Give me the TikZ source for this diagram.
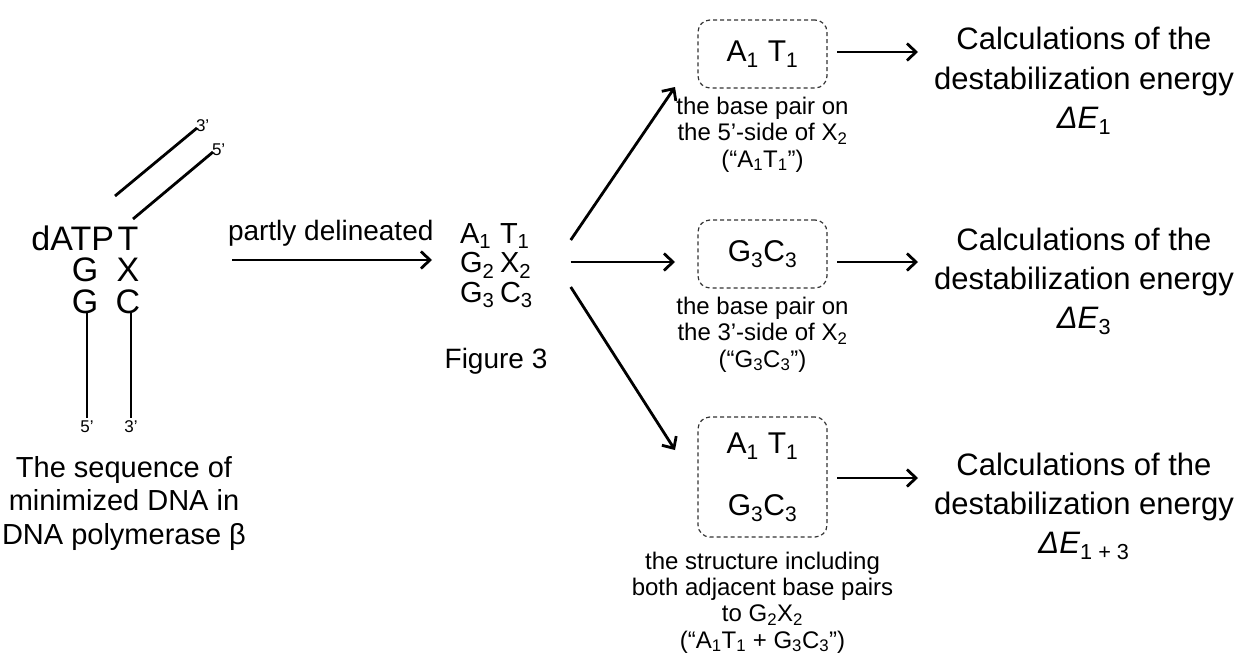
\documentclass[tikz,border=0pt]{standalone}
\usepackage{fontspec}
\setmainfont{Liberation Sans}
\usetikzlibrary{arrows.meta,calc}
\newcommand\sub[1]{\textsubscript{#1}}
\newcommand\bp[4]{\makebox[40pt][l]{#1\sub{#2}}#3\sub{#4}}
\begin{document}
\begin{tikzpicture}[x=1pt,y=-1pt,
  every node/.style={inner sep=0pt,outer sep=0pt},
  strand/.style={line width=2.8pt},
  flow/.style={line width=2.8pt,-{Straight Barb[length=9pt,width=17pt]}},
  base/.style={font=\fontsize{34}{34}\selectfont},
  endlabel/.style={font=\fontsize{17}{17}\selectfont},
  caption/.style={align=center,font=\fontsize{29}{33.5}\selectfont},
  result/.style={align=center,font=\fontsize{31}{39}\selectfont},
  note/.style={align=center,font=\fontsize{24}{26.3}\selectfont},
  pairbox/.style={draw=black!80,dashed,dash pattern=on 4pt off 3pt,line width=1.2pt,
    rounded corners=12pt,minimum width=129pt,font=\fontsize{30}{30}\selectfont}]
\useasboundingbox (0,0) rectangle (1244,661);

% minimized DNA: template and primer strands
\node[base,anchor=base east] (datp) at (114,250) {dATP};
\node[base,anchor=base] (t0) at (128,250) {T};
\node[base,anchor=base] (g2) at (85,281) {G};
\node[base,anchor=base] (x2) at (128,281) {X};
\node[base,anchor=base] (g3) at (85,313) {G};
\node[base,anchor=base] (c3) at (128,313) {C};
\coordinate (up3) at (197,128);
\coordinate (up5) at (213,152);
\coordinate (dn5) at (87,418);
\coordinate (dn3) at (131,418);
\draw[strand] (115,196) -- (up3);
\draw[strand] (133,219) -- (up5);
\draw[strand] (g3.south -| dn5) -- (dn5);
\draw[strand] (c3.south -| dn3) -- (dn3);
\node[endlabel,anchor=south west] (l3a) at ([xshift=-1pt,yshift=-4pt]up3) {3’};
\node[endlabel,anchor=south west] (l5a) at ([xshift=-1pt,yshift=-4pt]up5) {5’};
\node[endlabel,anchor=north] (l5b) at ([yshift=-3pt]dn5) {5’};
\node[endlabel,anchor=north] (l3b) at ([yshift=-3pt]dn3) {3’};
\node[caption,anchor=base] (seq) at (124,544)
  {The sequence of\\minimized DNA in\\DNA polymerase β};

% partly delineated fragment
\node[font=\fontsize{28}{28}\selectfont,anchor=base west] (pd) at (228,240) {partly delineated};
\coordinate (pdstart) at (232,260);
\node[align=left,anchor=base west,font=\fontsize{29}{29.5}\selectfont] (fig3) at (460,302)
  {\bp{A}{1}{T}{1}\\\bp{G}{2}{X}{2}\\\bp{G}{3}{C}{3}};
\node[font=\fontsize{28}{28}\selectfont,anchor=base] (figlbl) at (496,368) {Figure 3};
\draw[flow] (pdstart) -- ($(pdstart -| fig3.west)+(-28,0)$);

% selected base pairs
\node[pairbox,minimum height=68pt] (boxA) at (762.5,54) {A\sub{1}\hspace{0.3em}T\sub{1}};
\node[pairbox,minimum height=68pt] (boxG) at (762.5,254) {G\sub{3}C\sub{3}};
\node[pairbox,minimum height=120pt,align=center,font=\fontsize{30}{62}\selectfont] (boxB) at (762.5,477)
  {A\sub{1}\hspace{0.3em}T\sub{1}\\G\sub{3}C\sub{3}};
\node[note,anchor=base] (capA) at (762.5,167)
  {the base pair on\\the 5’-side of X\sub{2}\\(“A\sub{1}T\sub{1}”)};
\node[note,anchor=base] (capG) at (762.5,367)
  {the base pair on\\the 3’-side of X\sub{2}\\(“G\sub{3}C\sub{3}”)};
\node[note,anchor=base] (capB) at (762.5,648)
  {the structure including\\both adjacent base pairs\\to G\sub{2}X\sub{2}\\(“A\sub{1}T\sub{1} + G\sub{3}C\sub{3}”)};

\draw[flow] ($(fig3.base east)+(38,-62)$) -- ($(boxA.south west)+(-23,-1)$);
\draw[flow] ($(fig3.base east)+(38,-40)$) -- ($(boxG.west)+(-23,8)$);
\draw[flow] ($(fig3.base east)+(38,-15)$) -- ($(boxB.north west)+(-23,33)$);

% destabilization energies
\node[result,anchor=base] (e1) at (1084,128)
  {Calculations of the\\destabilization energy\\\textit{ΔE}\sub{1}};
\node[result,anchor=base] (e3) at (1084,328)
  {Calculations of the\\destabilization energy\\\textit{ΔE}\sub{3}};
\node[result,anchor=base] (e13) at (1084,553)
  {Calculations of the\\destabilization energy\\\textit{ΔE}\sub{1 + 3}};
\draw[flow] ($(boxA.east)+(10,-2)$) -- ($(boxA.east)+(91,-2)$);
\draw[flow] ($(boxG.east)+(10,8)$) -- ($(boxG.east)+(91,8)$);
\draw[flow] ($(boxB.east)+(10,1)$) -- ($(boxB.east)+(91,1)$);
\end{tikzpicture}
\end{document}
